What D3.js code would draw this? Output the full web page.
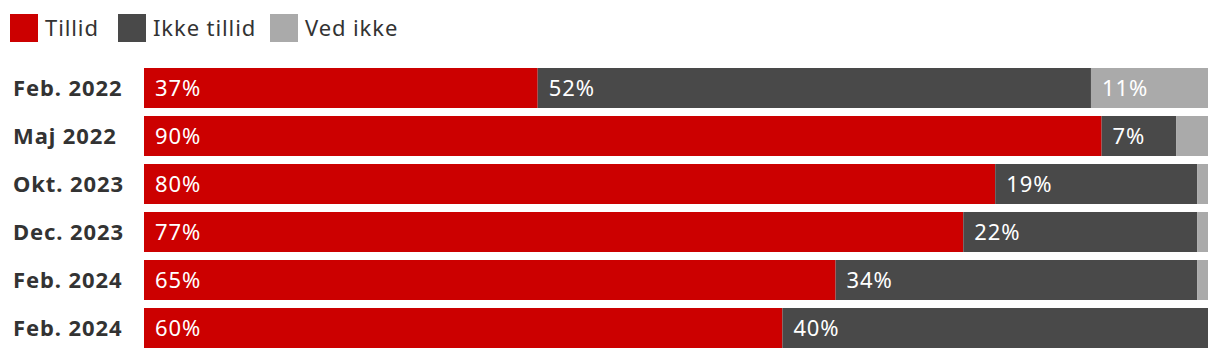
<!DOCTYPE html>
<html>
<head>
<meta charset="utf-8">
<script src="https://cdn.jsdelivr.net/npm/d3@7"></script>
<style>
  body { margin: 0; background: #fff; }
  svg text { font-family: "Noto Sans", sans-serif; letter-spacing: 0.9px; }
</style>
</head>
<body>
<div id="chart"></div>
<script>
// data
var periods = ["Feb. 2022", "Maj 2022", "Okt. 2023", "Dec. 2023", "Feb. 2024", "Feb. 2024"];
var tillid = [37, 90, 80, 77, 65, 60];
var ikkeTillid = [52, 7, 19, 22, 34, 40];
var vedIkke = [11, 3, 1, 1, 1, 0];

var seriesNames = ["Tillid", "Ikke tillid", "Ved ikke"];
var seriesColors = ["#cc0000", "#494949", "#aaaaaa"];

var w = 1220, h = 360;
var marginLeft = 144, marginRight = 12, marginTop = 68, marginBottom = 12;

var rows = periods.map(function(p, i) {
  return { id: i, label: p, Tillid: tillid[i], "Ikke tillid": ikkeTillid[i], "Ved ikke": vedIkke[i] };
});

var svg = d3.select("#chart").append("svg")
  .attr("width", w)
  .attr("height", h);

var xScale = d3.scaleLinear().domain([0, 100]).range([marginLeft, w - marginRight]);
var yScale = d3.scaleBand()
  .domain(rows.map(function(d) { return d.id; }))
  .range([marginTop, h - marginBottom])
  .paddingInner(8 / 48)
  .paddingOuter(0);

var stack = d3.stack().keys(seriesNames);
var layers = stack(rows);

// legend
var legend = svg.append("g").attr("class", "legend");
var legendX = [10, 118, 270];
seriesNames.forEach(function(name, i) {
  legend.append("rect")
    .attr("x", legendX[i]).attr("y", 14)
    .attr("width", 28).attr("height", 28)
    .style("fill", seriesColors[i]);
  legend.append("text")
    .attr("x", legendX[i] + 35).attr("y", 28)
    .attr("dy", "0.35em")
    .style("font-size", "22px")
    .style("fill", "#333")
    .text(name);
});

// bars
var layerG = svg.selectAll(".layer")
  .data(layers)
  .enter().append("g")
  .attr("class", "layer")
  .style("fill", function(d, i) { return seriesColors[i]; });

layerG.selectAll("rect")
  .data(function(d) { return d; })
  .enter().append("rect")
  .attr("x", function(d) { return xScale(d[0]); })
  .attr("y", function(d) { return yScale(d.data.id); })
  .attr("width", function(d) { return xScale(d[1]) - xScale(d[0]); })
  .attr("height", yScale.bandwidth());

// value labels (only where the segment is wide enough)
layerG.selectAll("text")
  .data(function(d) { return d; })
  .enter().filter(function(d) { return d[1] - d[0] >= 5; })
  .append("text")
  .attr("x", function(d) { return xScale(d[0]) + 11; })
  .attr("y", function(d) { return yScale(d.data.id) + yScale.bandwidth() / 2; })
  .attr("dy", "0.35em")
  .style("font-size", "22px")
  .style("fill", "#fff")
  .text(function(d) { return (d[1] - d[0]) + "%"; });

// row labels
svg.append("g").attr("class", "labels")
  .selectAll("text")
  .data(rows)
  .enter().append("text")
  .attr("x", 13)
  .attr("y", function(d) { return yScale(d.id) + yScale.bandwidth() / 2; })
  .attr("dy", "0.35em")
  .style("font-size", "22px")
  .style("font-weight", "bold")
  .style("fill", "#333")
  .text(function(d) { return d.label; });
</script>
</body>
</html>
